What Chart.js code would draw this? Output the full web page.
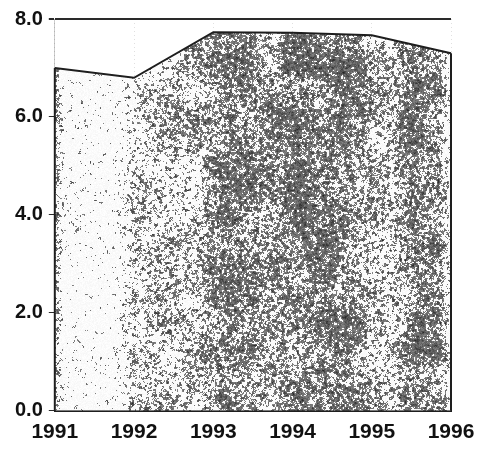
<!DOCTYPE html>
<html>
<head>
<meta charset="utf-8">
<script src="https://cdn.jsdelivr.net/npm/chart.js@4/dist/chart.umd.min.js"></script>
<style>
  html, body { margin: 0; padding: 0; background: #fff; }
</style>
</head>
<body>
<canvas id="chart" width="479" height="451"></canvas>
<script>
const years = ["1991", "1992", "1993", "1994", "1995", "1996"];
const values = [7.0, 6.8, 7.73, 7.72, 7.67, 7.3];
const yTicks = [0, 2, 4, 6, 8];

const W = 479, H = 451;

// small deterministic hash + value noise for the speckled fill
function hash(x, y) {
  let h = (x * 374761393 + y * 668265263) | 0;
  h = Math.imul(h ^ (h >>> 13), 1274126177);
  return ((h ^ (h >>> 16)) >>> 0) / 4294967295;
}
function noise(x, y, s) {
  const gx = x / s, gy = y / s;
  const x0 = Math.floor(gx), y0 = Math.floor(gy);
  const fx = gx - x0, fy = gy - y0;
  const a = hash(x0, y0), b = hash(x0 + 1, y0), c = hash(x0, y0 + 1), d = hash(x0 + 1, y0 + 1);
  const ux = fx * fx * (3 - 2 * fx), uy = fy * fy * (3 - 2 * fy);
  return a + (b - a) * ux + (c - a) * uy + (a - b - c + d) * ux * uy;
}

// how dark the grain is across the width of the canvas
const shade = [[0, 0.3], [56, 0.52], [64, 0.28], [110, 0.26], [135, 0.44], [195, 0.5],
  [225, 0.64], [260, 0.58], [300, 0.66], [345, 0.68], [372, 0.5], [392, 0.46],
  [415, 0.66], [440, 0.6], [450, 0.36], [479, 0.3]];
function shadeAt(x) {
  for (let i = 1; i < shade.length; i++) {
    if (x <= shade[i][0]) {
      const [x0, v0] = shade[i - 1], [x1, v1] = shade[i];
      return v0 + (v1 - v0) * (x - x0) / (x1 - x0);
    }
  }
  return 0.3;
}

function makeGrain() {
  const c = document.createElement("canvas");
  c.width = W; c.height = H;
  const g = c.getContext("2d");
  const img = g.createImageData(W, H);
  for (let y = 0; y < H; y++) {
    for (let x = 0; x < W; x++) {
      const d = shadeAt(x) * (0.8 + 0.4 * noise(x + 300, y + 300, 26));
      const v = 0.45 * noise(x, y, 2.5) + 0.3 * noise(x + 1000, y + 500, 1.7) + 0.25 * hash(x * 3 + 7, y * 5 + 11);
      let gray;
      if (v < d * 0.92) gray = 25 + 120 * (v / Math.max(d, 0.01));
      else gray = 246 + 9 * hash(x + 91, y + 17);
      const k = (y * W + x) * 4;
      img.data[k] = img.data[k + 1] = img.data[k + 2] = Math.min(255, gray);
      img.data[k + 3] = 255;
    }
  }
  g.putImageData(img, 0, 0);
  const soft = document.createElement("canvas");
  soft.width = W; soft.height = H;
  const s = soft.getContext("2d");
  s.filter = "blur(0.6px)";
  s.drawImage(c, 0, 0);
  return s.createPattern(soft, "no-repeat");
}

const ctx = document.getElementById("chart").getContext("2d");

// dark vertical edges closing the area at the first and last year
const areaEdges = {
  id: "areaEdges",
  afterDatasetsDraw(chart) {
    const pts = chart.getDatasetMeta(0).data;
    const base = chart.scales.y.getPixelForValue(0);
    const c = chart.ctx;
    c.save();
    c.strokeStyle = "#1e1e1e";
    c.lineWidth = 2;
    [pts[0], pts[pts.length - 1]].forEach(p => {
      c.beginPath();
      c.moveTo(p.x, p.y);
      c.lineTo(p.x, base);
      c.stroke();
    });
    c.restore();
  }
};

new Chart(ctx, {
  type: "line",
  data: {
    labels: years,
    datasets: [{
      data: values,
      fill: "origin",
      backgroundColor: makeGrain(),
      borderColor: "#1e1e1e",
      borderWidth: 2,
      tension: 0,
      pointRadius: 0
    }]
  },
  plugins: [areaEdges],
  options: {
    responsive: false,
    animation: false,
    devicePixelRatio: 1,
    layout: { padding: { left: 9, right: 28, top: 19, bottom: -3 } },
    plugins: { legend: { display: false }, tooltip: { enabled: false } },
    scales: {
      x: {
        afterFit: s => { s.paddingRight = 0; },
        grid: { color: "rgba(0,0,0,0.12)", drawTicks: false },
        border: { display: true, color: "#1e1e1e", width: 2, dash: [1, 3] },
        ticks: {
          color: "#111",
          padding: 9,
          maxRotation: 0,
          font: { family: "'Liberation Sans', Arial, sans-serif", size: 21, weight: "bold" }
        }
      },
      y: {
        min: 0,
        max: 8,
        afterBuildTicks: axis => { axis.ticks = yTicks.map(v => ({ value: v })); },
        grid: {
          color: c => c.tick && c.tick.value === 8 ? "#2a2a2a" : "transparent",
          lineWidth: c => c.tick && c.tick.value === 8 ? 2 : 1,
          tickColor: "#2a2a2a",
          tickLength: 6
        },
        border: { display: true, color: "rgba(0,0,0,0.2)", width: 1 },
        ticks: {
          color: "#111",
          padding: 6,
          callback: v => Number(v).toFixed(1),
          font: { family: "'Liberation Sans', Arial, sans-serif", size: 20, weight: "bold" }
        }
      }
    }
  }
});
</script>
</body>
</html>
